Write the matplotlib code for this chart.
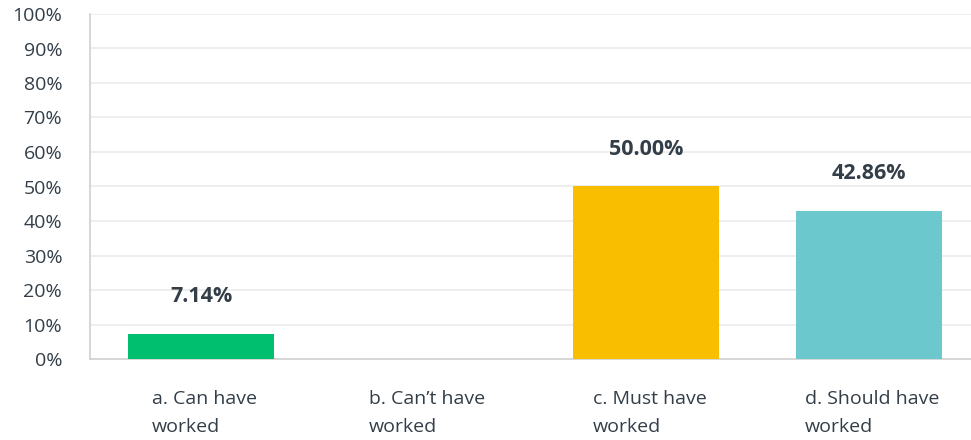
import matplotlib
matplotlib.use("Agg")
from matplotlib import pyplot as plt

# ---- data -------------------------------------------------------------------
categories = ["a. Can have\nworked", "b. Can\u2019t have\nworked",
              "c. Must have\nworked", "d. Should have\nworked"]
values = [7.14, 0.0, 50.00, 42.86]
value_labels = ["7.14%", "", "50.00%", "42.86%"]
colors = ["#00BF6F", "#F9BE00", "#F9BE00", "#6BC8CD"]
yticks = list(range(0, 101, 10))

INK = "#333E48"
GRID = "#EBEBEB"
AXIS = "#D0D0D0"

plt.rcParams["font.family"] = ["Open Sans", "DejaVu Sans"]

fig = plt.figure(figsize=(9.71, 4.40), dpi=100)
ax = fig.add_axes([90 / 971, 81 / 440, 881 / 971, 345 / 440])

xs = list(range(len(categories)))
ax.bar(xs, values, width=0.656, color=colors, zorder=3)

for x, v, lab in zip(xs, values, value_labels):
    if lab:
        ax.annotate(lab, (x, v), xytext=(0, 27), textcoords="offset points",
                    ha="center", va="center", fontsize=15.5, color=INK,
                    fontweight="bold", zorder=5)

ax.set_xlim(-0.5, 3.46)
ax.set_ylim(0, 100)
ax.set_yticks(yticks)
ax.set_yticklabels([f"{t}%" for t in yticks], fontsize=14, color=INK)
ax.set_xticks([x + 0.015 for x in xs])
ax.set_xticklabels(categories, fontsize=14, color=INK, multialignment="left",
                   linespacing=1.75)
ax.tick_params(axis="both", length=0)
ax.tick_params(axis="x", pad=22)
ax.tick_params(axis="y", pad=20)
for lbl in ax.get_yticklabels():
    lbl.set_horizontalalignment("right")

ax.yaxis.grid(True, color=GRID, lw=1.2, zorder=0)
ax.set_axisbelow(True)
for s in ("top", "right"):
    ax.spines[s].set_visible(False)
ax.spines["left"].set_color(AXIS)
ax.spines["bottom"].set_color(AXIS)
ax.spines["left"].set_linewidth(1.2)
ax.spines["bottom"].set_linewidth(1.2)

fig.savefig("out.png", dpi=100, facecolor="white")
